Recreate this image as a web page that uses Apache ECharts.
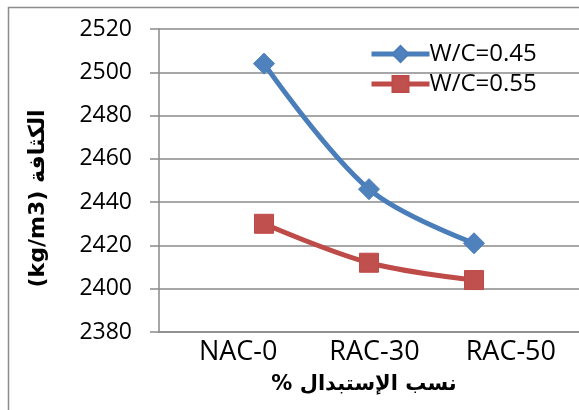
<!DOCTYPE html>
<html>
<head>
<meta charset="utf-8">
<script src="https://cdn.jsdelivr.net/npm/echarts@6/dist/echarts.min.js"></script>
<style>
  html, body { margin: 0; padding: 0; background: #fff; }
  #chart { width: 579px; height: 410px; }
</style>
</head>
<body>
<div id="chart"></div>
<script>
// Mix designs and measured densities (kg/m3)
const categories = ['NAC-0', 'RAC-30', 'RAC-50'];
const wc045 = [2504, 2446, 2421];
const wc055 = [2430, 2412, 2404];
const seriesNames = ['W/C=0.45', 'W/C=0.55'];
const yTicks = { min: 2380, max: 2520, step: 20 };

const baseFont = '"Open Sans", "DejaVu Sans", sans-serif';
const axisGray = '#8a8a8a';

const chart = echarts.init(document.getElementById('chart'), null, { renderer: 'canvas' });

chart.setOption({
  animation: false,
  backgroundColor: '#ffffff',
  graphic: [{
    type: 'rect',
    shape: { x: 8.5, y: 7.5, width: 640, height: 440 },
    style: { fill: 'none', stroke: '#8c8c8c', lineWidth: 1.5 },
    silent: true,
    z: -1
  }],
  grid: [
    { left: 159, right: -4, top: 29, bottom: 78 },
    { left: 170, right: -5, top: 29, bottom: 78 }
  ],
  legend: {
    orient: 'vertical',
    left: 364,
    top: 37,
    itemWidth: 58,
    itemHeight: 20,
    itemGap: 6,
    data: seriesNames,
    lineStyle: { width: 5 },
    textStyle: { fontFamily: baseFont, fontSize: 24, color: '#000', padding: [0, 0, 0, -5] }
  },
  xAxis: [
    {
      type: 'category',
      gridIndex: 0,
      data: categories,
      boundaryGap: false,
      min: -1,
      max: 3,
      axisLine: { show: true, lineStyle: { color: axisGray, width: 1.5 } },
      axisTick: { show: false },
      axisLabel: { show: false },
      splitLine: { show: false },
      name: '% نسب الإستبدال',
      nameLocation: 'middle',
      nameGap: 42,
      nameTextStyle: {
        fontFamily: '"DejaVu Sans", sans-serif',
        fontWeight: 'bold',
        fontSize: 21,
        color: '#000',
        padding: [0, 10, 0, 0]
      }
    },
    {
      type: 'category',
      gridIndex: 1,
      data: categories,
      boundaryGap: true,
      axisLine: { show: false },
      axisTick: { show: false },
      splitLine: { show: false },
      axisLabel: { fontFamily: baseFont, fontSize: 27, color: '#000', margin: 7 }
    }
  ],
  yAxis: [
    {
      type: 'value',
      gridIndex: 0,
      min: yTicks.min,
      max: yTicks.max,
      interval: yTicks.step,
      axisLine: { show: true, lineStyle: { color: axisGray, width: 1.5 } },
      axisTick: { show: true, inside: false, length: 9, lineStyle: { color: axisGray, width: 1.5 } },
      axisLabel: {
        fontFamily: baseFont, fontSize: 23, color: '#000', margin: 27,
        formatter: (v) => String(v)
      },
      splitLine: { show: true, lineStyle: { color: axisGray, width: 1.5 } },
      name: '(kg/m3) الكثافة',
      nameLocation: 'middle',
      nameRotate: 90,
      nameGap: 110,
      nameTextStyle: {
        fontFamily: '"DejaVu Sans", sans-serif',
        fontWeight: 'bold',
        fontSize: 22,
        color: '#000',
        padding: [0, 36, 0, 0]
      }
    },
    { type: 'value', gridIndex: 1, show: false, min: yTicks.min, max: yTicks.max }
  ],
  series: [
    {
      name: seriesNames[0],
      type: 'line',
      xAxisIndex: 0,
      yAxisIndex: 0,
      data: wc045,
      smooth: 0.35,
      symbol: 'diamond',
      symbolSize: 21,
      lineStyle: { color: '#4A7EBB', width: 5 },
      itemStyle: { color: '#4F81BD', borderColor: '#4A7EBB', borderWidth: 1 },
      z: 3
    },
    {
      name: seriesNames[1],
      type: 'line',
      xAxisIndex: 0,
      yAxisIndex: 0,
      data: wc055,
      smooth: 0.35,
      symbol: 'rect',
      symbolSize: 19,
      lineStyle: { color: '#BE4B48', width: 5 },
      itemStyle: { color: '#C0504D', borderColor: '#BE4B48', borderWidth: 1 },
      z: 2
    }
  ]
});
</script>
</body>
</html>
